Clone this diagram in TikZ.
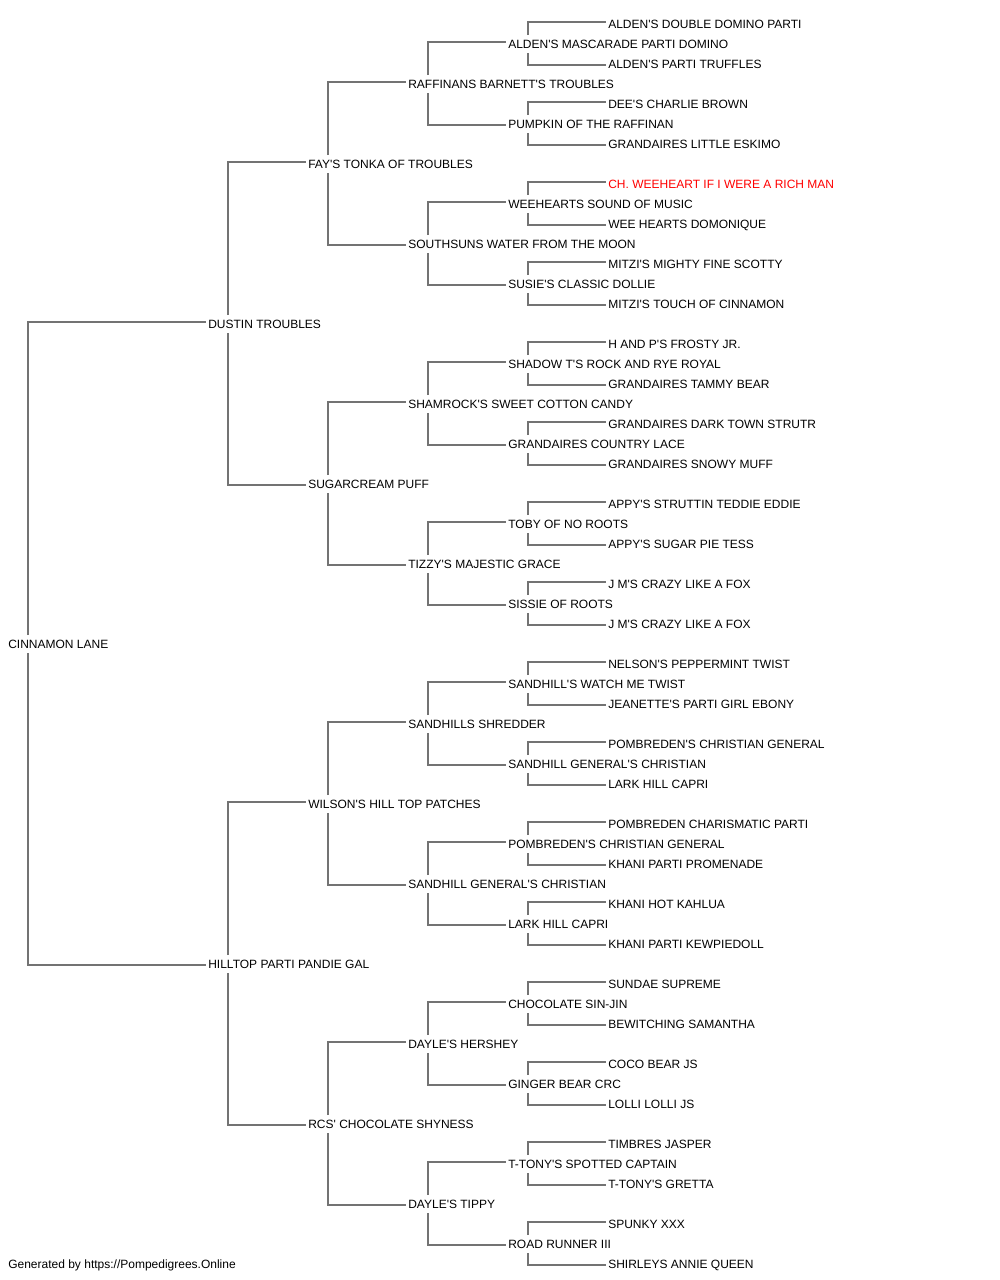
\documentclass[tikz,border=0pt]{standalone}
\usepackage{fontspec}
\newfontfamily\pedfont{Liberation Sans}
\usetikzlibrary{calc}
\definecolor{linegray}{RGB}{115,115,115}
\definecolor{redname}{RGB}{255,0,0}
\newcommand{\pedlink}[3]{%
  \draw[conn] ($(#1.base west)+(19.7,-13)$) |- ($(#2.base west)+(-2.6,-6)$);
  \draw[conn] ($(#1.base west)+(19.7,5)$) |- ($(#3.base west)+(-2.6,-3)$);
}
\begin{document}
\begin{tikzpicture}[x=1pt,y=-1pt,
  lbl/.style={anchor=base west, inner sep=0pt, outer sep=0pt, font=\pedfont\fontsize{12}{14}\selectfont},
  conn/.style={draw=linegray, line width=1.5pt}]
\useasboundingbox (0,0) rectangle (1000,1280);
% generation 0
\node[lbl] (g0n1) at (8.3,648) {CINNAMON LANE};
% generation 1
\node[lbl] (g1n1) at (208.3,328) {DUSTIN TROUBLES};
\node[lbl] (g1n2) at (208.3,968) {HILLTOP PARTI PANDIE GAL};
% generation 2
\node[lbl] (g2n1) at (308.3,168) {FAY'S TONKA OF TROUBLES};
\node[lbl] (g2n2) at (308.3,488) {SUGARCREAM PUFF};
\node[lbl] (g2n3) at (308.3,808) {WILSON'S HILL TOP PATCHES};
\node[lbl] (g2n4) at (308.3,1128) {RCS' CHOCOLATE SHYNESS};
% generation 3
\node[lbl] (g3n1) at (408.3,88) {RAFFINANS BARNETT'S TROUBLES};
\node[lbl] (g3n2) at (408.3,248) {SOUTHSUNS WATER FROM THE MOON};
\node[lbl] (g3n3) at (408.3,408) {SHAMROCK'S SWEET COTTON CANDY};
\node[lbl] (g3n4) at (408.3,568) {TIZZY'S MAJESTIC GRACE};
\node[lbl] (g3n5) at (408.3,728) {SANDHILLS SHREDDER};
\node[lbl] (g3n6) at (408.3,888) {SANDHILL GENERAL'S CHRISTIAN};
\node[lbl] (g3n7) at (408.3,1048) {DAYLE'S HERSHEY};
\node[lbl] (g3n8) at (408.3,1208) {DAYLE'S TIPPY};
% generation 4
\node[lbl] (g4n1) at (508.3,48) {ALDEN'S MASCARADE PARTI DOMINO};
\node[lbl] (g4n2) at (508.3,128) {PUMPKIN OF THE RAFFINAN};
\node[lbl] (g4n3) at (508.3,208) {WEEHEARTS SOUND OF MUSIC};
\node[lbl] (g4n4) at (508.3,288) {SUSIE'S CLASSIC DOLLIE};
\node[lbl] (g4n5) at (508.3,368) {SHADOW T'S ROCK AND RYE ROYAL};
\node[lbl] (g4n6) at (508.3,448) {GRANDAIRES COUNTRY LACE};
\node[lbl] (g4n7) at (508.3,528) {TOBY OF NO ROOTS};
\node[lbl] (g4n8) at (508.3,608) {SISSIE OF ROOTS};
\node[lbl] (g4n9) at (508.3,688) {SANDHILL'S WATCH ME TWIST};
\node[lbl] (g4n10) at (508.3,768) {SANDHILL GENERAL'S CHRISTIAN};
\node[lbl] (g4n11) at (508.3,848) {POMBREDEN'S CHRISTIAN GENERAL};
\node[lbl] (g4n12) at (508.3,928) {LARK HILL CAPRI};
\node[lbl] (g4n13) at (508.3,1008) {CHOCOLATE SIN-JIN};
\node[lbl] (g4n14) at (508.3,1088) {GINGER BEAR CRC};
\node[lbl] (g4n15) at (508.3,1168) {T-TONY'S SPOTTED CAPTAIN};
\node[lbl] (g4n16) at (508.3,1248) {ROAD RUNNER III};
% generation 5
\node[lbl] (g5n1) at (608.3,28) {ALDEN'S DOUBLE DOMINO PARTI};
\node[lbl] (g5n2) at (608.3,68) {ALDEN'S PARTI TRUFFLES};
\node[lbl] (g5n3) at (608.3,108) {DEE'S CHARLIE BROWN};
\node[lbl] (g5n4) at (608.3,148) {GRANDAIRES LITTLE ESKIMO};
\node[lbl,text=redname] (g5n5) at (608.3,188) {CH. WEEHEART IF I WERE A RICH MAN};
\node[lbl] (g5n6) at (608.3,228) {WEE HEARTS DOMONIQUE};
\node[lbl] (g5n7) at (608.3,268) {MITZI'S MIGHTY FINE SCOTTY};
\node[lbl] (g5n8) at (608.3,308) {MITZI'S TOUCH OF CINNAMON};
\node[lbl] (g5n9) at (608.3,348) {H AND P'S FROSTY JR.};
\node[lbl] (g5n10) at (608.3,388) {GRANDAIRES TAMMY BEAR};
\node[lbl] (g5n11) at (608.3,428) {GRANDAIRES DARK TOWN STRUTR};
\node[lbl] (g5n12) at (608.3,468) {GRANDAIRES SNOWY MUFF};
\node[lbl] (g5n13) at (608.3,508) {APPY'S STRUTTIN TEDDIE EDDIE};
\node[lbl] (g5n14) at (608.3,548) {APPY'S SUGAR PIE TESS};
\node[lbl] (g5n15) at (608.3,588) {J M'S CRAZY LIKE A FOX};
\node[lbl] (g5n16) at (608.3,628) {J M'S CRAZY LIKE A FOX};
\node[lbl] (g5n17) at (608.3,668) {NELSON'S PEPPERMINT TWIST};
\node[lbl] (g5n18) at (608.3,708) {JEANETTE'S PARTI GIRL EBONY};
\node[lbl] (g5n19) at (608.3,748) {POMBREDEN'S CHRISTIAN GENERAL};
\node[lbl] (g5n20) at (608.3,788) {LARK HILL CAPRI};
\node[lbl] (g5n21) at (608.3,828) {POMBREDEN CHARISMATIC PARTI};
\node[lbl] (g5n22) at (608.3,868) {KHANI PARTI PROMENADE};
\node[lbl] (g5n23) at (608.3,908) {KHANI HOT KAHLUA};
\node[lbl] (g5n24) at (608.3,948) {KHANI PARTI KEWPIEDOLL};
\node[lbl] (g5n25) at (608.3,988) {SUNDAE SUPREME};
\node[lbl] (g5n26) at (608.3,1028) {BEWITCHING SAMANTHA};
\node[lbl] (g5n27) at (608.3,1068) {COCO BEAR JS};
\node[lbl] (g5n28) at (608.3,1108) {LOLLI LOLLI JS};
\node[lbl] (g5n29) at (608.3,1148) {TIMBRES JASPER};
\node[lbl] (g5n30) at (608.3,1188) {T-TONY'S GRETTA};
\node[lbl] (g5n31) at (608.3,1228) {SPUNKY XXX};
\node[lbl] (g5n32) at (608.3,1268) {SHIRLEYS ANNIE QUEEN};
% footer
\node[lbl] (footer) at (8.3,1268) {Generated by https://Pompedigrees.Online};
% connectors
\pedlink{g0n1}{g1n1}{g1n2}
\foreach \i in {1,2} {\pgfmathtruncatemacro\ja{2*\i-1}\pgfmathtruncatemacro\jb{2*\i}\pedlink{g1n\i}{g2n\ja}{g2n\jb}}
\foreach \i in {1,...,4} {\pgfmathtruncatemacro\ja{2*\i-1}\pgfmathtruncatemacro\jb{2*\i}\pedlink{g2n\i}{g3n\ja}{g3n\jb}}
\foreach \i in {1,...,8} {\pgfmathtruncatemacro\ja{2*\i-1}\pgfmathtruncatemacro\jb{2*\i}\pedlink{g3n\i}{g4n\ja}{g4n\jb}}
\foreach \i in {1,...,16} {\pgfmathtruncatemacro\ja{2*\i-1}\pgfmathtruncatemacro\jb{2*\i}\pedlink{g4n\i}{g5n\ja}{g5n\jb}}
\end{tikzpicture}
\end{document}
